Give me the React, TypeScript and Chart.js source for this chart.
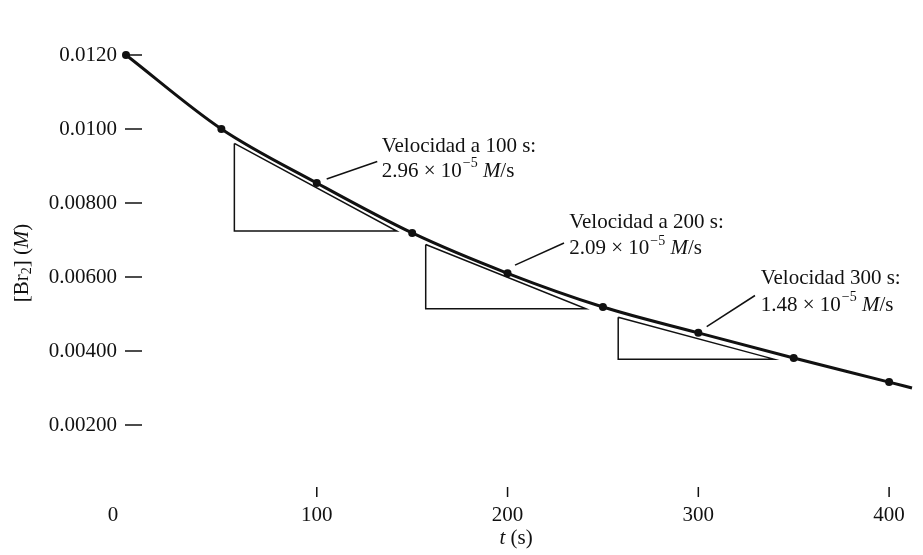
import React, { useEffect, useRef } from "react";
import { Chart, registerables } from "chart.js";

Chart.register(...registerables);

// ---- data ----
const timeS = [0, 50, 100, 150, 200, 250, 300, 350, 400];
const br2M = [0.012, 0.01, 0.00854, 0.00719, 0.0061, 0.00519, 0.00449, 0.00381, 0.00316];
const curveEndT = 412;
const curveEndC = 0.003;

const xTickValues = [0, 100, 200, 300, 400];
const xTickLabels = ["0     ", "100", "200", "300", "400"];
const yTickValues = [0.002, 0.004, 0.006, 0.008, 0.01, 0.012];
const yTickLabels = ["0.00200", "0.00400", "0.00600", "0.00800", "0.0100", "0.0120"];

// tangent triangles (t, [Br2])
const tri100T = [56.8, 56.8, 141.9, 56.8];
const tri100C = [0.00961, 0.00724, 0.00724, 0.00961];
const tri200T = [157.1, 157.1, 241.1, 157.1];
const tri200C = [0.00688, 0.00514, 0.00514, 0.00688];
const tri300T = [258.0, 258.0, 339.6, 258.0];
const tri300C = [0.00491, 0.00378, 0.00378, 0.00491];

// leader lines for the rate labels
const leader100T = [105.2, 131.7];
const leader100C = [0.00865, 0.00912];
const leader200T = [203.9, 229.6];
const leader200C = [0.00632, 0.00692];
const leader300T = [304.4, 329.7];
const leader300C = [0.00466, 0.0055];

// rate labels
const rateTitles = ["Velocidad a 100 s:", "Velocidad a 200 s:", "Velocidad 300 s:"];
const rateMantissa = ["2.96", "2.09", "1.48"];
const rateExponent = "−5";
const labelT = [134.0, 232.3, 332.7];
const labelC1 = [0.00952, 0.00747, 0.00597];
const labelC2 = [0.00885, 0.00676, 0.00524];

const FONT = "'Liberation Serif', 'Times New Roman', serif";
const INK = "#111";

const pts = (xs: number[], ys: number[]) => xs.map((x, i) => ({ x, y: ys[i] }));

const lineDs = (data: { x: number; y: number }[], width: number) => ({
  data,
  showLine: true,
  borderColor: INK,
  borderWidth: width,
  pointRadius: 0,
  tension: 0,
  fill: false,
  clip: false as any,
});

const decorPlugin = {
  id: "decor",
  afterDraw(chart: any) {
    const ctx = chart.ctx;
    const xs = chart.scales.x;
    const ys = chart.scales.y;
    ctx.save();
    // tick marks
    ctx.strokeStyle = INK;
    ctx.lineWidth = 1.5;
    const x0 = xs.getPixelForValue(0);
    yTickValues.forEach((v) => {
      const y = ys.getPixelForValue(v);
      ctx.beginPath();
      ctx.moveTo(x0 - 1, y);
      ctx.lineTo(x0 + 16, y);
      ctx.stroke();
    });
    const y0 = ys.getPixelForValue(0);
    xTickValues.forEach((v) => {
      if (v === 0) return;
      const x = xs.getPixelForValue(v);
      ctx.beginPath();
      ctx.moveTo(x, y0 - 12);
      ctx.lineTo(x, y0 - 2);
      ctx.stroke();
    });

    // rate labels
    ctx.fillStyle = INK;
    ctx.textBaseline = "middle";
    ctx.textAlign = "left";
    rateTitles.forEach((title, i) => {
      const x = xs.getPixelForValue(labelT[i]);
      const y1 = ys.getPixelForValue(labelC1[i]);
      const y2 = ys.getPixelForValue(labelC2[i]);
      ctx.font = `21px ${FONT}`;
      ctx.fillText(title, x, y1);
      let cx = x;
      const first = `${rateMantissa[i]} × 10`;
      ctx.fillText(first, cx, y2);
      cx += ctx.measureText(first).width;
      ctx.font = `14px ${FONT}`;
      ctx.fillText(rateExponent, cx + 1, y2 - 8);
      cx += ctx.measureText(rateExponent).width + 1;
      ctx.font = `21px ${FONT}`;
      cx += ctx.measureText(" ").width;
      ctx.font = `italic 21px ${FONT}`;
      ctx.fillText("M", cx, y2);
      cx += ctx.measureText("M").width;
      ctx.font = `21px ${FONT}`;
      ctx.fillText("/s", cx, y2);
    });

    // y-axis title: [Br2] (M)
    ctx.save();
    ctx.translate(22, 263);
    ctx.rotate(-Math.PI / 2);
    const parts = [
      { t: "[Br", f: `21px ${FONT}`, dy: 0 },
      { t: "2", f: `14px ${FONT}`, dy: 5 },
      { t: "] (", f: `21px ${FONT}`, dy: 0 },
      { t: "M", f: `italic 21px ${FONT}`, dy: 0 },
      { t: ")", f: `21px ${FONT}`, dy: 0 },
    ];
    let total = 0;
    parts.forEach((p) => {
      ctx.font = p.f;
      total += ctx.measureText(p.t).width;
    });
    let px = -total / 2;
    parts.forEach((p) => {
      ctx.font = p.f;
      ctx.fillText(p.t, px, p.dy);
      px += ctx.measureText(p.t).width;
    });
    ctx.restore();

    // x-axis title: t (s)
    const tp = [
      { t: "t", f: `italic 21px ${FONT}` },
      { t: " (s)", f: `21px ${FONT}` },
    ];
    let tw = 0;
    tp.forEach((p) => {
      ctx.font = p.f;
      tw += ctx.measureText(p.t).width;
    });
    let tx = xs.getPixelForValue(204.5) - tw / 2;
    tp.forEach((p) => {
      ctx.font = p.f;
      ctx.fillText(p.t, tx, 538);
      tx += ctx.measureText(p.t).width;
    });
    ctx.restore();
  },
};

export default function App() {
  const ref = useRef<HTMLCanvasElement | null>(null);
  useEffect(() => {
    if (!ref.current) return;
    const curve = [...pts(timeS, br2M), { x: curveEndT, y: curveEndC }];
    const chart = new Chart(ref.current, {
      type: "scatter",
      data: {
        datasets: [
          lineDs(pts(tri100T, tri100C), 1.5),
          lineDs(pts(tri200T, tri200C), 1.5),
          lineDs(pts(tri300T, tri300C), 1.5),
          lineDs(pts(leader100T, leader100C), 1.5),
          lineDs(pts(leader200T, leader200C), 1.5),
          lineDs(pts(leader300T, leader300C), 1.5),
          {
            data: curve,
            showLine: true,
            borderColor: INK,
            borderWidth: 3,
            pointRadius: 0,
            cubicInterpolationMode: "monotone",
            fill: false,
            clip: false as any,
          },
          {
            data: pts(timeS, br2M),
            showLine: false,
            pointRadius: 4,
            pointBackgroundColor: INK,
            pointBorderColor: INK,
            pointBorderWidth: 0,
            clip: false as any,
          },
        ] as any,
      },
      options: {
        animation: false,
        responsive: false,
        layout: { padding: { top: 55, right: 11, left: 0, bottom: 0 } },
        plugins: { legend: { display: false }, tooltip: { enabled: false } },
        scales: {
          x: {
            type: "linear",
            min: 0,
            max: 412,
            afterFit: (s: any) => {
              s.height = 56;
            },
            afterBuildTicks: (s: any) => {
              s.ticks = xTickValues.map((v) => ({ value: v }));
            },
            grid: { display: false, drawTicks: false },
            border: { display: false },
            ticks: {
              padding: 4,
              color: INK,
              font: { family: FONT, size: 21 },
              maxRotation: 0,
              autoSkip: false,
              callback: (v: any) => {
                const i = xTickValues.findIndex((t) => Math.abs(t - Number(v)) < 1e-6);
                return i >= 0 ? xTickLabels[i] : "";
              },
            },
          },
          y: {
            type: "linear",
            min: 0,
            max: 0.012,
            afterFit: (s: any) => {
              s.width = 126;
            },
            afterBuildTicks: (s: any) => {
              s.ticks = yTickValues.map((v) => ({ value: v }));
            },
            grid: { display: false, drawTicks: false },
            border: { display: false },
            ticks: {
              padding: 9,
              color: INK,
              font: { family: FONT, size: 21 },
              autoSkip: false,
              callback: (v: any) => {
                const i = yTickValues.findIndex((t) => Math.abs(t - Number(v)) < 1e-9);
                return i >= 0 ? yTickLabels[i] : "";
              },
            },
          },
        },
      },
      plugins: [decorPlugin],
    });
    return () => chart.destroy();
  }, []);
  return (
    <div style={{ position: "fixed", left: 0, top: 0, width: 923, height: 555, background: "#fff" }}>
      <canvas ref={ref} width={923} height={555} />
    </div>
  );
}
